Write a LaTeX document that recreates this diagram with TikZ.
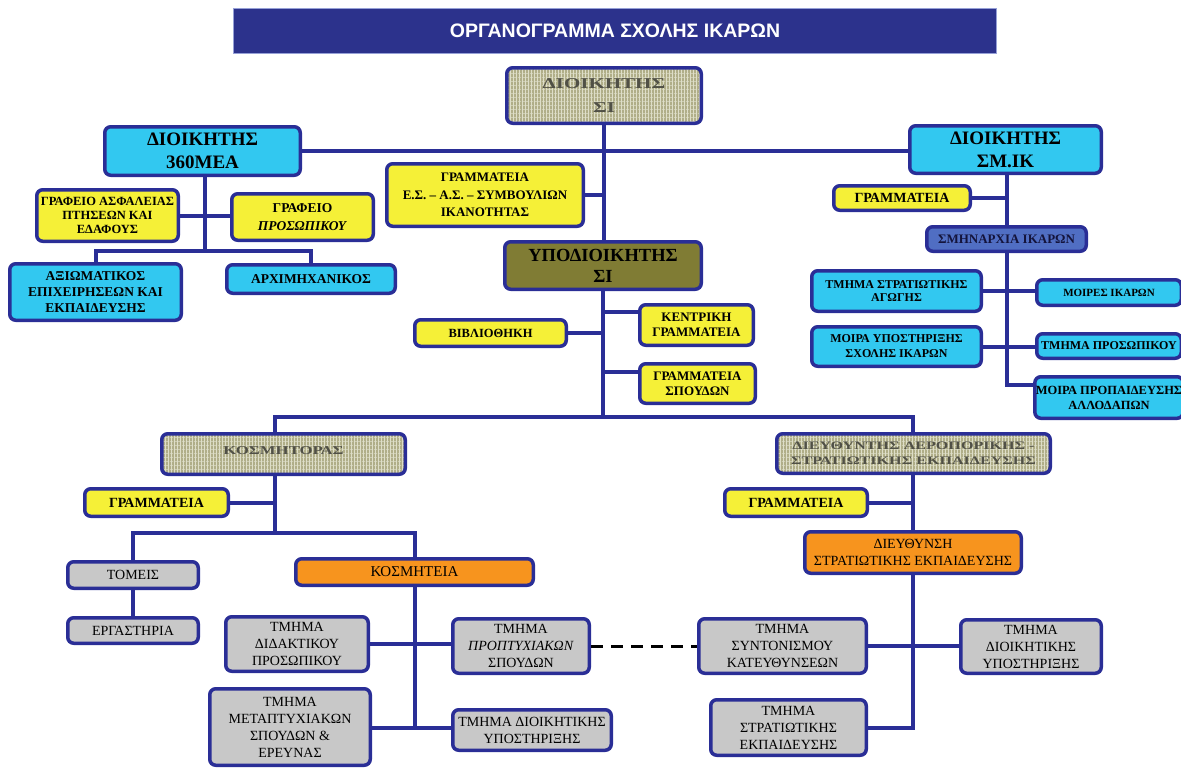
\documentclass[tikz,border=0pt]{standalone}
\usepackage{fontspec}
\setmainfont{Liberation Serif}
\newfontfamily\titlefont{Liberation Sans}
\newfontfamily\widefont[FakeStretch=1.4]{Liberation Serif}
\usetikzlibrary{backgrounds,patterns.meta}
\definecolor{navy}{RGB}{42,46,150}
\definecolor{titleblue}{RGB}{44,50,140}
\definecolor{titleedge}{RGB}{150,160,215}
\definecolor{cyanf}{RGB}{50,200,240}
\definecolor{yell}{RGB}{245,240,55}
\definecolor{greyf}{RGB}{200,200,200}
\definecolor{orangef}{RGB}{247,148,30}
\definecolor{olived}{RGB}{128,124,52}
\definecolor{texf}{RGB}{176,174,136}
\definecolor{texl}{RGB}{222,222,200}
\definecolor{sminf}{RGB}{80,110,195}
\definecolor{smint}{RGB}{20,20,60}
\definecolor{textgrey}{RGB}{80,80,70}
\newcommand\obox[7]{\node[#6, minimum width={#4-#2-3.5}, minimum height={#5-#3-3.5}] (#1) at ({(#2+#4)/2},{(#3+#5)/2}) {#7};}
\tikzset{
 base/.style={draw=navy, line width=3.5pt, rounded corners=6pt, align=center, inner sep=1pt},
 cyanbox/.style={base, fill=cyanf},
 yellbox/.style={base, fill=yell},
 greybox/.style={base, fill=greyf, font=\fontsize{14}{17}\selectfont},
 orbox/.style={base, fill=orangef, font=\fontsize{14}{17}\selectfont},
 olivebox/.style={base, fill=olived},
 sminbox/.style={base, fill=sminf, text=smint},
 texbox/.style={base, text=textgrey, preaction={fill=texf},
   preaction={pattern={Lines[angle=90,distance=3pt,line width=0.7pt]}, pattern color=texl},
   preaction={pattern={Lines[angle=0,distance=4pt,line width=0.5pt]}, pattern color=texl}},
 conn/.style={draw=navy, line width=4pt},
 dconn/.style={draw=black, line width=3pt, dash pattern=on 12pt off 8pt},
 fa/.style={font=\bfseries\fontsize{12}{13.5}\selectfont},
 fb/.style={font=\bfseries\fontsize{12.5}{14}\selectfont},
 fc/.style={font=\bfseries\fontsize{13.5}{16}\selectfont},
 fbig/.style={font=\bfseries\fontsize{19}{23}\selectfont},
}
\begin{document}
\begin{tikzpicture}[x=1pt,y=-1pt]
\useasboundingbox (0,0) rectangle (1181,769);
\clip (0,0) rectangle (1181,769);
% title
\node[fill=titleblue, draw=titleedge, line width=1pt, minimum width=763, minimum height=45, text=white,
  font=\titlefont\bfseries\fontsize{19.5}{20}\selectfont] (title) at (615,31) {ΟΡΓΑΝΟΓΡΑΜΜΑ ΣΧΟΛΗΣ ΙΚΑΡΩΝ};
% top
\obox{dsi}{505}{66}{703}{125}{texbox,font=\widefont\bfseries\fontsize{15}{24}\selectfont}{ΔΙΟΙΚΗΤΗΣ\\ΣΙ}
\obox{m360}{103}{125}{302}{177}{cyanbox,fbig}{ΔΙΟΙΚΗΤΗΣ\\360ΜΕΑ}
\obox{smik}{908}{124}{1103}{175}{cyanbox,fbig}{ΔΙΟΙΚΗΤΗΣ\\ΣΜ.ΙΚ}
\obox{grEs}{385}{162}{585}{228}{yellbox,font=\bfseries\fontsize{13}{17.5}\selectfont}{ΓΡΑΜΜΑΤΕΙΑ\\Ε.Σ. – Α.Σ. – ΣΥΜΒΟΥΛΙΩΝ\\ΙΚΑΝΟΤΗΤΑΣ}
\obox{asf}{35}{188}{180}{243}{yellbox,fb}{ΓΡΑΦΕΙΟ ΑΣΦΑΛΕΙΑΣ\\ΠΤΗΣΕΩΝ ΚΑΙ\\ΕΔΑΦΟΥΣ}
\obox{pros}{230}{192}{375}{242}{yellbox,font=\bfseries\fontsize{13.5}{18}\selectfont}{ΓΡΑΦΕΙΟ\\\textit{ΠΡΟΣΩΠΙΚΟΥ}}
\obox{axiom}{8}{262}{183}{322}{cyanbox,fc}{ΑΞΙΩΜΑΤΙΚΟΣ\\ΕΠΙΧΕΙΡΗΣΕΩΝ ΚΑΙ\\ΕΚΠΑΙΔΕΥΣΗΣ}
\obox{arch}{225}{263}{397}{295}{cyanbox,fc}{ΑΡΧΙΜΗΧΑΝΙΚΟΣ}
\obox{ypo}{503}{240}{703}{291}{olivebox,font=\bfseries\fontsize{18.5}{21}\selectfont}{ΥΠΟΔΙΟΙΚΗΤΗΣ\\ΣΙ}
\obox{vivl}{413}{318}{568}{348}{yellbox,fb}{ΒΙΒΛΙΟΘΗΚΗ}
\obox{kentr}{638}{303}{755}{347}{yellbox,font=\bfseries\fontsize{13}{15}\selectfont}{ΚΕΝΤΡΙΚΗ\\ΓΡΑΜΜΑΤΕΙΑ}
\obox{grSp}{638}{362}{757}{405}{yellbox,font=\bfseries\fontsize{13}{15}\selectfont}{ΓΡΑΜΜΑΤΕΙΑ\\ΣΠΟΥΔΩΝ}
% right upper
\obox{grR}{832}{184}{972}{212}{yellbox,font=\bfseries\fontsize{14}{16}\selectfont}{ΓΡΑΜΜΑΤΕΙΑ}
\obox{smin}{925}{225}{1088}{253}{sminbox,font=\bfseries\fontsize{13}{15}\selectfont}{ΣΜΗΝΑΡΧΙΑ ΙΚΑΡΩΝ}
\obox{agogi}{810}{269}{983}{313}{cyanbox,fa}{ΤΜΗΜΑ ΣΤΡΑΤΙΩΤΙΚΗΣ\\ΑΓΩΓΗΣ}
\obox{moires}{1035}{278}{1183}{307}{cyanbox,font=\bfseries\fontsize{11}{13}\selectfont}{ΜΟΙΡΕΣ ΙΚΑΡΩΝ}
\obox{mys}{810}{325}{983}{368}{cyanbox,font=\bfseries\fontsize{12}{15}\selectfont}{ΜΟΙΡΑ ΥΠΟΣΤΗΡΙΞΗΣ\\ΣΧΟΛΗΣ ΙΚΑΡΩΝ}
\obox{tprosw}{1035}{332}{1183}{360}{cyanbox,fa}{ΤΜΗΜΑ ΠΡΟΣΩΠΙΚΟΥ}
\obox{propaid}{1035}{375}{1183}{420}{cyanbox,font=\bfseries\fontsize{12.5}{15}\selectfont}{ΜΟΙΡΑ ΠΡΟΠΑΙΔΕΥΣΗΣ\\ΑΛΛΟΔΑΠΩΝ}
% bottom left
\obox{kosm}{160}{432}{407}{476}{texbox,font=\widefont\bfseries\fontsize{12}{13}\selectfont}{\raisebox{6pt}{ΚΟΣΜΗΤΟΡΑΣ}}
\obox{grL}{83}{487}{230}{518}{yellbox,font=\bfseries\fontsize{14}{16}\selectfont}{ΓΡΑΜΜΑΤΕΙΑ}
\obox{tomeis}{66}{560}{200}{590}{greybox}{ΤΟΜΕΙΣ}
\obox{kosmiteia}{294}{557}{535}{587}{orbox,font=\fontsize{15}{17}\selectfont}{ΚΟΣΜΗΤΕΙΑ}
\obox{ergast}{66}{616}{200}{645}{greybox}{ΕΡΓΑΣΤΗΡΙΑ}
\obox{didakt}{224}{615}{370}{673}{greybox}{ΤΜΗΜΑ\\ΔΙΔΑΚΤΙΚΟΥ\\ΠΡΟΣΩΠΙΚΟΥ}
\obox{propt}{451}{617}{591}{675}{greybox}{ΤΜΗΜΑ\\\textit{ΠΡΟΠΤΥΧΙΑΚΩΝ}\\ΣΠΟΥΔΩΝ}
\obox{metapt}{208}{687}{372}{767}{greybox}{ΤΜΗΜΑ\\ΜΕΤΑΠΤΥΧΙΑΚΩΝ\\ΣΠΟΥΔΩΝ \&\\ΕΡΕΥΝΑΣ}
\obox{dioikL}{451}{708}{613}{752}{greybox}{ΤΜΗΜΑ ΔΙΟΙΚΗΤΙΚΗΣ\\ΥΠΟΣΤΗΡΙΞΗΣ}
% bottom right
\obox{dieuth}{775}{432}{1052}{475}{texbox,font=\widefont\bfseries\fontsize{11.5}{15}\selectfont}{ΔΙΕΥΘΥΝΤΗΣ ΑΕΡΟΠΟΡΙΚΗΣ -\\ΣΤΡΑΤΙΩΤΙΚΗΣ ΕΚΠΑΙΔΕΥΣΗΣ}
\obox{grR2}{723}{487}{869}{518}{yellbox,font=\bfseries\fontsize{14}{16}\selectfont}{ΓΡΑΜΜΑΤΕΙΑ}
\obox{dse}{803}{530}{1023}{575}{orbox}{ΔΙΕΥΘΥΝΣΗ\\ΣΤΡΑΤΙΩΤΙΚΗΣ ΕΚΠΑΙΔΕΥΣΗΣ}
\obox{synt}{697}{617}{868}{675}{greybox}{ΤΜΗΜΑ\\ΣΥΝΤΟΝΙΣΜΟΥ\\ΚΑΤΕΥΘΥΝΣΕΩΝ}
\obox{dioikR}{959}{618}{1103}{675}{greybox}{ΤΜΗΜΑ\\ΔΙΟΙΚΗΤΙΚΗΣ\\ΥΠΟΣΤΗΡΙΞΗΣ}
\obox{stratEk}{709}{698}{868}{757}{greybox}{ΤΜΗΜΑ\\ΣΤΡΑΤΙΩΤΙΚΗΣ\\ΕΚΠΑΙΔΕΥΣΗΣ}
% junctions
\coordinate (j360) at (205,251);
\coordinate (cK) at (603,312);
\coordinate (cG) at (603,372);
\coordinate (bL) at (275,417);
\coordinate (bR) at (913,417);
\coordinate (kJ) at (275,533);
\coordinate (kB) at (415,728);
\coordinate (rB) at (913,728);
\coordinate (sB) at (1007,385);
\begin{pgfonlayer}{background}
\draw[conn] (dsi.south) -- (dsi.south |- ypo.north);
\draw[conn] (m360.east) -- (m360.east -| smik.west);
\draw[conn] (grEs.east) -- (grEs.east -| dsi.south);
\draw[conn] (j360 |- m360.south) -- (j360);
\draw[conn] (axiom.north) -- (axiom.north |- j360) -- (arch.north |- j360) -- (arch.north);
\draw[conn] (asf.east) -- (pros.west |- asf.east);
\draw[conn] (ypo.south) -- (ypo.south |- bL);
\draw[conn] (vivl.east) -- (vivl.east -| ypo.south);
\draw[conn] (cK) -- (cK -| kentr.west);
\draw[conn] (cG) -- (cG -| grSp.west);
\draw[conn] (bL |- kosm.north) -- (bL) -- (bR) -- (bR |- dieuth.north);
\draw[conn] (bL |- kosm.south) -- (kJ);
\draw[conn] (grL.east) -- (grL.east -| kJ);
\draw[conn] (tomeis.north) -- (tomeis.north |- kJ) -- (kosmiteia.north |- kJ) -- (kosmiteia.north);
\draw[conn] (tomeis.south) -- (ergast.north);
\draw[conn] (kB |- kosmiteia.south) -- (kB);
\draw[conn] (didakt.east) -- (propt.west |- didakt.east);
\draw[conn] (metapt.east |- kB) -- (dioikL.west |- kB);
\draw[conn] (bR |- dieuth.south) -- (bR |- dse.north);
\draw[conn] (grR2.east) -- (grR2.east -| bR);
\draw[conn] (rB |- dse.south) -- (rB) -- (stratEk.east |- rB);
\draw[conn] (synt.east) -- (dioikR.west |- synt.east);
\draw[conn] (sB |- smik.south) -- (sB) -- (propaid.west |- sB);
\draw[conn] (grR.east) -- (grR.east -| sB);
\draw[conn] (agogi.east) -- (moires.west |- agogi.east);
\draw[conn] (mys.east) -- (tprosw.west |- mys.east);
\end{pgfonlayer}
\draw[dconn] (propt.east) -- (synt.west |- propt.east);
\end{tikzpicture}
\end{document}
